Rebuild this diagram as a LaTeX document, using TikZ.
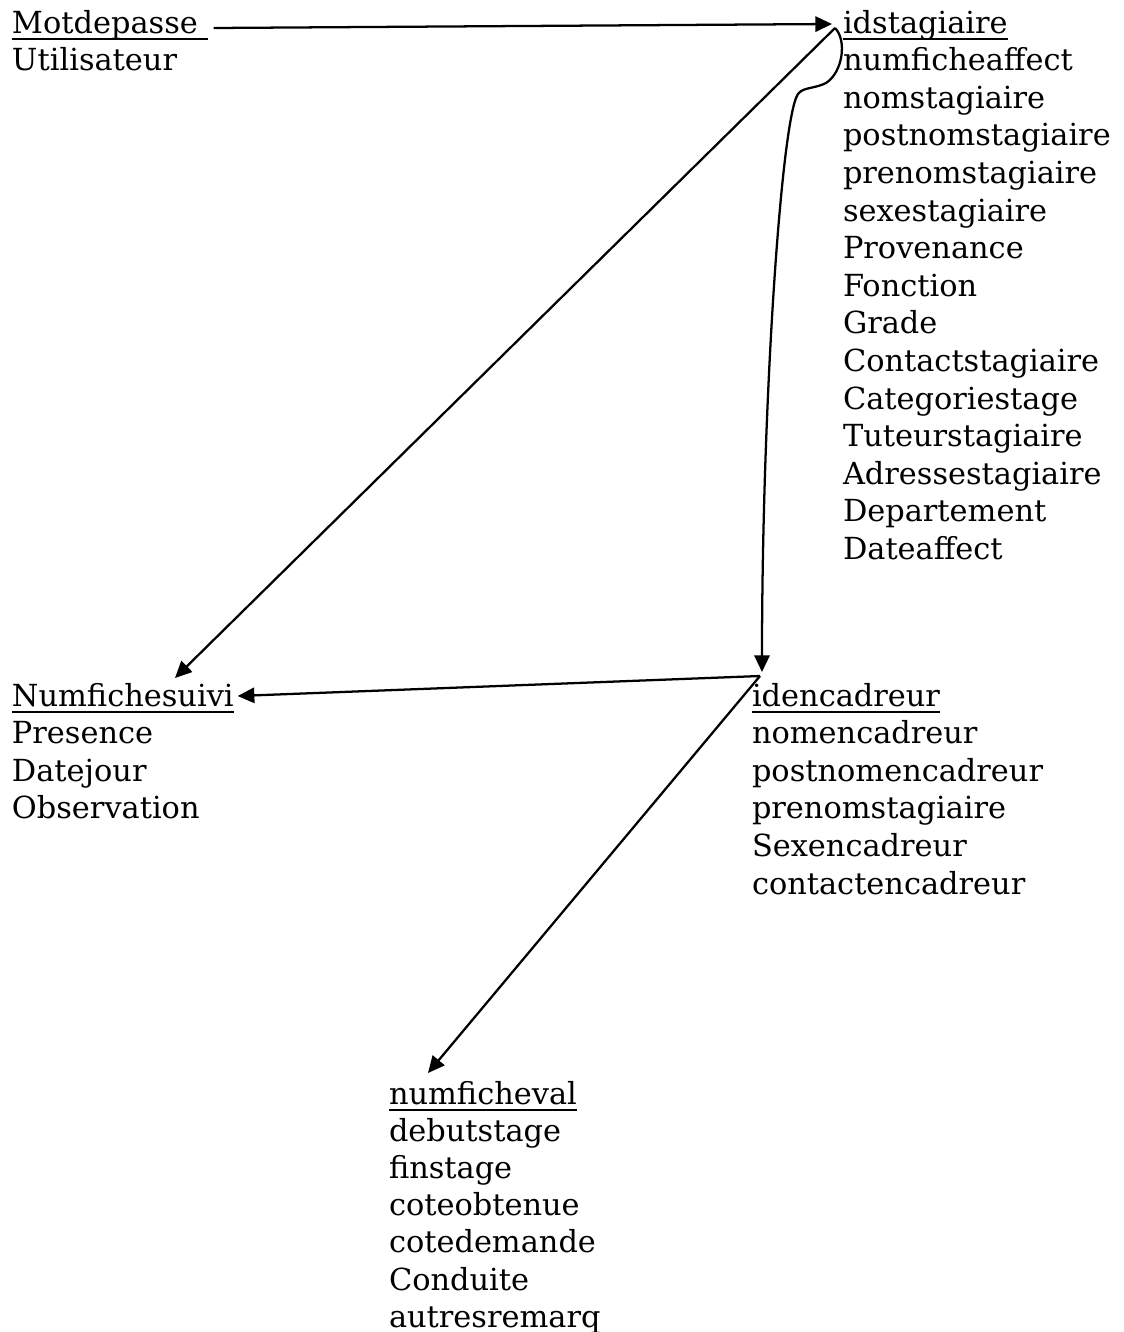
\documentclass[tikz,border=0pt]{standalone}
\usepackage{fontspec}
\setmainfont{DejaVu Serif}
\usetikzlibrary{arrows.meta}
% underlined key attribute: fixed rule position, independent of descenders
\newcommand\ulword[1]{\setbox0\hbox{#1}\dp0=0pt\vtop{\box0\kern4pt\hrule height 1.5pt}}
\newcommand\attrlist[1]{\begin{tabular}[t]{@{}l@{}}#1\end{tabular}}
\begin{document}
\begin{tikzpicture}[x=0.75pt,y=-0.75pt,
  every node/.style={font=\fontsize{22.8}{28.2}\selectfont,inner sep=0pt,outer sep=0pt,anchor=base west},
  tight/.style={font=\fontsize{22.8}{27.9}\selectfont},
  link/.style={line width=1.7pt,-{Triangle[length=12.5pt,width=11.5pt]}}]
\useasboundingbox (0,0) rectangle (1124,1332);

% entities: key (underlined) and attribute list
\node (motT) at (12,33) {\ulword{Motdepasse\ }};
\node (motA) at (12,70.6) {\attrlist{Utilisateur}};

\node (stagT) at (843,33) {\ulword{idstagiaire}};
\node (stagA) at (843,70.6) {\attrlist{numficheaffect\\ nomstagiaire\\ postnomstagiaire\\ prenomstagiaire\\ sexestagiaire\\ Provenance\\ Fonction\\ Grade\\ Contactstagiaire\\ Categoriestage\\ Tuteurstagiaire\\ Adressestagiaire\\ Departement\\ Dateaffect}};

\node (suiviT) at (12,706) {\ulword{Numfichesuivi}};
\node (suiviA) at (12,743.6) {\attrlist{Presence\\ Datejour\\ Observation}};

\node (encT) at (752,706) {\ulword{idencadreur}};
\node (encA) at (752,743.6) {\attrlist{nomencadreur\\ postnomencadreur\\ prenomstagiaire\\ Sexencadreur\\ contactencadreur}};

\node (evalT) at (389,1104) {\ulword{numficheval}};
\node[tight] (evalA) at (389,1141.2) {\attrlist{debutstage\\ finstage\\ coteobtenue\\ cotedemande\\ Conduite\\ autresremarq}};

% links
\draw[link] ([shift={(6,-5)}]motT.base east) -- ([shift={(-11,-9)}]stagT.base west);
\draw[link] ([shift={(-8,-5)}]stagT.base west) -- ([shift={(163,-28)}]suiviT.base west);
\draw[link] ([shift={(-8,-5)}]stagT.base west)
  .. controls (847,40) and (843,72) .. (826,83)
  .. controls (812,90) and (800,86) .. (796,98)
  .. controls (780,140) and (762,412) .. ([shift={(10,-34)}]encT.base west);
\draw[link] ([shift={(8,-30)}]encT.base west) -- ([shift={(4,-10)}]suiviT.base east);
\draw[link] ([shift={(8,-30)}]encT.base west) -- ([shift={(39,-31)}]evalT.base west);
\end{tikzpicture}
\end{document}
